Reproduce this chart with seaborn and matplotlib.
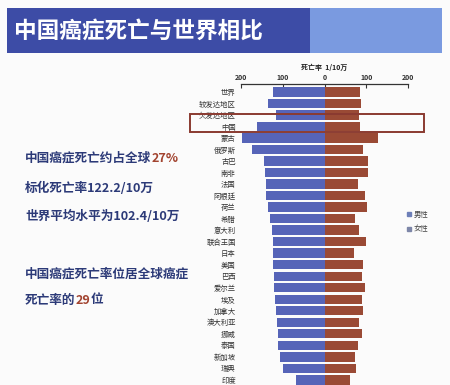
import numpy as np
import pandas as pd
import matplotlib
matplotlib.use("Agg")
import matplotlib.pyplot as plt
from matplotlib.patches import Rectangle
from matplotlib.lines import Line2D
import seaborn as sns

countries = ["世界", "较发达地区", "欠发达地区", "中国", "蒙古", "俄罗斯", "古巴", "南非", "法国",
             "阿根廷", "荷兰", "希腊", "意大利", "联合王国", "日本", "美国", "巴西", "爱尔兰",
             "埃及", "加拿大", "澳大利亚", "挪威", "泰国", "新加坡", "瑞典", "印度"]
male = [124, 136, 117, 162, 198, 174, 144, 142, 141, 139, 134, 130, 126, 124, 122, 122, 121, 121,
        118, 115, 114, 112, 110, 106, 100, 67]
female = [84, 87, 82, 84, 129, 92, 105, 104, 81, 98, 102, 72, 83, 99, 70, 93, 90, 98,
          90, 93, 82, 90, 79, 74, 76, 62]
tick_vals = [-200, -100, 0, 100, 200]
tick_labels = ["200", "100", "0", "100", "200"]
series_names = ["男性", "女性"]

sns.set_style("white")
plt.rcParams['font.family'] = ['Noto Sans CJK SC', 'DejaVu Sans']

W, H = 450, 385
fig = plt.figure(figsize=(4.5, 3.85), dpi=100)
fig.patch.set_facecolor("#fbfbfb")

def fx(px):
    return px / W

def fy(py):
    return 1 - py / H

# Title bar
fig.patches.append(Rectangle((fx(7), fy(53)), fx(303), (53 - 8) / H, transform=fig.transFigure,
                             facecolor="#3d4ca6", edgecolor="none", zorder=0))
fig.patches.append(Rectangle((fx(310), fy(53)), fx(132), (53 - 8) / H, transform=fig.transFigure,
                             facecolor="#7a9ae0", edgecolor="none", zorder=0))
fig.text(fx(14), fy(31), "中国癌症死亡与世界相比", color="white", fontsize=16.3,
         fontweight="bold", va="center", ha="left")

# Main axes
ax = fig.add_axes([fx(240), 0, fx(169), (H - 84) / H])
ax.set_facecolor("none")
df = pd.DataFrame({"country": countries, "male": [-v for v in male], "female": female})
male_c = "#5664b8"
female_c = "#9a4a35"
sns.barplot(data=df, x="male", y="country", order=countries, color=male_c, width=0.82,
            orient="h", ax=ax, saturation=1)
sns.barplot(data=df, x="female", y="country", order=countries, color=female_c, width=0.82,
            orient="h", ax=ax, saturation=1)
for p in ax.patches:
    p.set_edgecolor("none")
ax.set_xlim(-202, 202)
ax.set_ylim(25.45, -0.7)
ax.xaxis.tick_top()
ax.xaxis.set_label_position("top")
ax.set_xticks(tick_vals)
ax.set_xticklabels(tick_labels, fontsize=5, color="#333333", fontweight="bold")
ax.tick_params(axis="x", direction="in", length=3, width=0.8, pad=2, colors="#333333")
ax.tick_params(axis="y", length=0, pad=3, labelsize=5.3, labelcolor="#333333")
ax.set_xlabel("死亡率  1/10万", fontsize=5, fontweight="bold", color="#222222", labelpad=3)
ax.set_ylabel("")
for s in ["left", "right", "bottom"]:
    ax.spines[s].set_visible(False)
ax.spines["top"].set_bounds(-200, 200)
ax.spines["top"].set_color("#333333")
ax.spines["top"].set_linewidth(0.9)

# Legend
handles = [Line2D([], [], marker="s", linestyle="none", markersize=2.5, color="#6d7fb8"),
           Line2D([], [], marker="s", linestyle="none", markersize=2.5, color="#7d86a8")]
fig.legend(handles, series_names, loc="center left", bbox_to_anchor=(fx(399), fy(222)),
           frameon=False, fontsize=5.3, handletextpad=0.1, handlelength=1.0, labelspacing=0.9,
           labelcolor="#444444")

# Red highlight box around China
fig.patches.append(Rectangle((fx(190), fy(132)), fx(234), (132 - 114) / H, transform=fig.transFigure,
                             facecolor="none", edgecolor="#8a3a30", linewidth=1.4, zorder=5))

# Left annotations
navy = "#2c3a78"
red = "#a2432f"
fs = 9.1
t = fig.text(fx(25), fy(158), "中国癌症死亡约占全球", color=navy, fontsize=fs, fontweight="bold",
             va="center", ha="left")
fig.canvas.draw()
bb = t.get_window_extent()
fig.text(bb.x1 / W, fy(158), "27%", color=red, fontsize=fs, fontweight="bold", va="center", ha="left")
fig.text(fx(25), fy(188), "标化死亡率122.2/10万", color=navy, fontsize=fs, fontweight="bold",
         va="center", ha="left")
fig.text(fx(25), fy(216), "世界平均水平为102.4/10万", color=navy, fontsize=fs, fontweight="bold",
         va="center", ha="left")
fig.text(fx(25), fy(274), "中国癌症死亡率位居全球癌症", color=navy, fontsize=fs, fontweight="bold",
         va="center", ha="left")
t2 = fig.text(fx(25), fy(300), "死亡率的", color=navy, fontsize=fs, fontweight="bold",
              va="center", ha="left")
fig.canvas.draw()
bb2 = t2.get_window_extent()
t3 = fig.text(bb2.x1 / W, fy(300), "29", color=red, fontsize=fs, fontweight="bold", va="center", ha="left")
fig.canvas.draw()
bb3 = t3.get_window_extent()
fig.text(bb3.x1 / W, fy(300), "位", color=navy, fontsize=fs, fontweight="bold", va="center", ha="left")

fig.savefig("out.png", dpi=100, facecolor=fig.get_facecolor())
